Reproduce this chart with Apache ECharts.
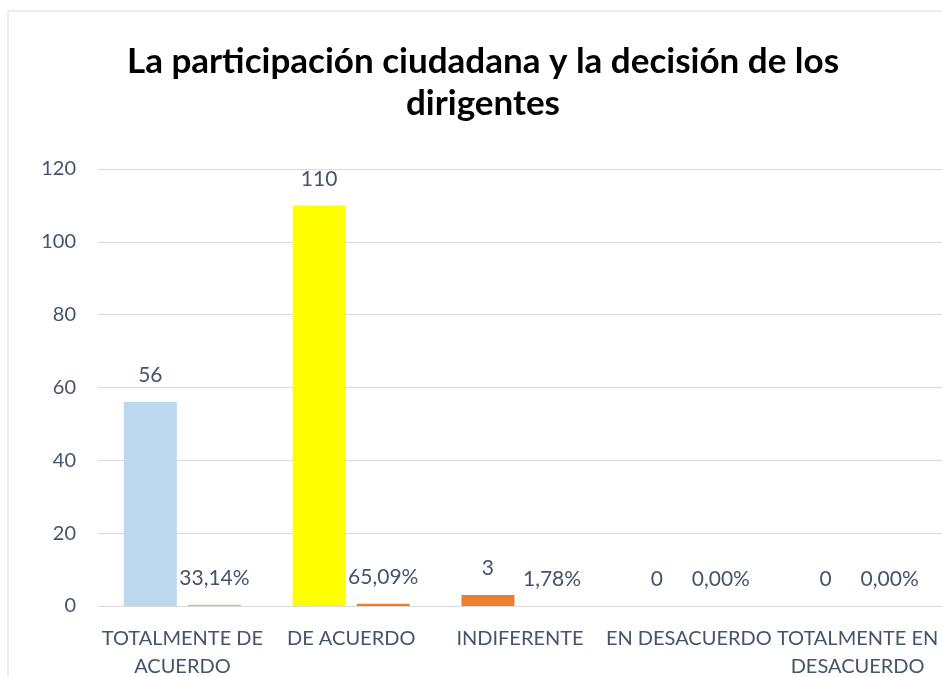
<!DOCTYPE html>
<html>
<head>
<meta charset="utf-8">
<script src="https://cdn.jsdelivr.net/npm/echarts@6/dist/echarts.min.js"></script>
<style>
  html, body { margin: 0; padding: 0; background: #fff; }
  #chart { width: 942px; height: 677px; }
</style>
</head>
<body>
<div id="chart"></div>
<script>
var categories = ["TOTALMENTE DE\nACUERDO", "DE ACUERDO", "INDIFERENTE", "EN DESACUERDO", "TOTALMENTE EN\nDESACUERDO"];
var frecuencia = [56, 110, 3, 0, 0];
var porcentaje = [0.3314, 0.6509, 0.0178, 0, 0];
var yTicks = { min: 0, max: 120, interval: 20 };

var colorsFrecuencia = ["#BDD7EE", "#FFFF00", "#ED7D31", "#ED7D31", "#ED7D31"];
var colorsPorcentaje = ["#F4B183", "#ED7D31", "#ED7D31", "#ED7D31", "#ED7D31"];
var textColor = "#44546A";
var font = "Lato, 'Open Sans', sans-serif";

var chart = echarts.init(document.getElementById("chart"));

var option = {
	animation: false,
	title: {
		text: "La participación ciudadana y la decisión de los\ndirigentes",
		left: 478,
		top: 36,
		textAlign: "center",
		textStyle: {
			fontFamily: font,
			fontWeight: "bold",
			fontSize: 35,
			lineHeight: 42,
			color: "#000"
		}
	},
	graphic: [{
		type: "polyline",
		shape: { points: [[8, 690], [8, 11], [950, 11]] },
		style: { stroke: "#D9D9D9", lineWidth: 1, fill: null }
	}],
	grid: {
		left: 98,
		right: 0,
		top: 169,
		bottom: 71,
		containLabel: false,
		outerBoundsMode: "none"
	},
	xAxis: {
		type: "category",
		data: categories,
		axisTick: { show: false },
		axisLine: { lineStyle: { color: "#D9D9D9", width: 1 } },
		axisLabel: {
			interval: 0,
			margin: 19,
			fontFamily: font,
			fontSize: 20,
			lineHeight: 28,
			color: textColor
		}
	},
	yAxis: {
		type: "value",
		min: yTicks.min,
		max: yTicks.max,
		interval: yTicks.interval,
		axisLine: { show: false },
		axisTick: { show: false },
		splitLine: { lineStyle: { color: "#D9D9D9", width: 1 } },
		axisLabel: {
			margin: 22,
			fontFamily: font,
			fontSize: 20,
			color: textColor
		}
	},
	series: [{
		name: "Frecuencia",
		type: "bar",
		barWidth: 53,
		barGap: "21%",
		data: frecuencia.map(function(v, i) {
			return { value: v, itemStyle: { color: colorsFrecuencia[i] } };
		}),
		label: {
			show: true,
			position: "top",
			distance: 16,
			fontFamily: font,
			fontSize: 21,
			color: textColor
		}
	}, {
		name: "Porcentaje",
		type: "bar",
		barWidth: 53,
		data: porcentaje.map(function(v, i) {
			return { value: v, itemStyle: { color: colorsPorcentaje[i] } };
		}),
		label: {
			show: true,
			position: "top",
			distance: 16,
			fontFamily: font,
			fontSize: 21,
			color: textColor,
			formatter: function(p) {
				return (p.value * 100).toFixed(2).replace(".", ",") + "%";
			}
		}
	}]
};
chart.setOption(option);
</script>
</body>
</html>
